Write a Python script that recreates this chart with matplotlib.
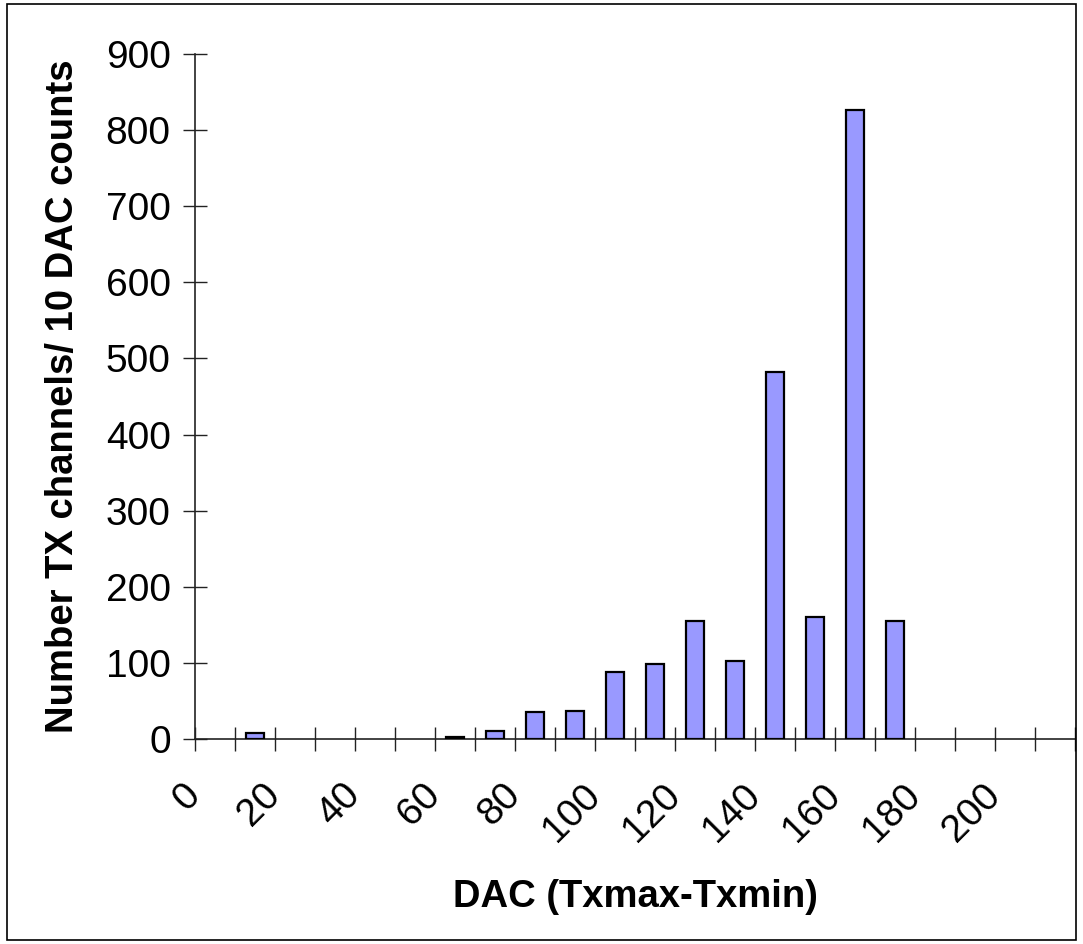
import matplotlib
matplotlib.use("Agg")
import matplotlib.pyplot as plt
from matplotlib.patches import Rectangle

# histogram bins (lower edge of each 10-count bin) and counts
bin_lo = [10, 60, 70, 80, 90, 100, 110, 120, 130, 140, 150, 160, 170]
counts = [8, 3, 10, 35, 37, 88, 98, 155, 103, 482, 160, 826, 155]

tick_vals = list(range(0, 230, 10))
tick_labels = [str(v) if (v % 20 == 0 and v <= 200) else "" for v in tick_vals]

plt.rcParams['font.family'] = ['Liberation Sans', 'DejaVu Sans']

fig = plt.figure(figsize=(10.83, 9.44), dpi=100)
ax = fig.add_axes([195/1083, 1-739/944, 880/1083, 685/944])

centers = [b + 5 for b in bin_lo]
ax.bar(centers, counts, width=4.4, color='#9999ff', edgecolor='black', linewidth=1.6, zorder=3)

ax.set_xlim(0, 220)
ax.set_ylim(0, 900)
ax.set_yticks(range(0, 1000, 100))
ax.set_xticks(tick_vals)
ax.set_xticklabels(tick_labels, rotation=45, ha='right', va='center', rotation_mode='anchor')

ax.spines['top'].set_visible(False)
ax.spines['right'].set_visible(False)
for s in ('left', 'bottom'):
    ax.spines[s].set_linewidth(1.2)
    ax.spines[s].set_color('#222222')

ax.tick_params(axis='both', direction='inout', length=17, width=1.0, color='#222222', labelsize=28)
ax.tick_params(axis='y', pad=9)
ax.tick_params(axis='x', pad=28)

ax.set_xlabel('DAC (Txmax-Txmin)', fontsize=27.5, fontweight='bold', labelpad=22)
ax.set_ylabel('Number TX channels/ 10 DAC counts', fontsize=27.5, fontweight='bold', labelpad=18)

# outer chart-area frame
fig.patches.append(Rectangle((7/1083, 4/944), 1-14/1083, 1-8/944, transform=fig.transFigure,
                             fill=False, edgecolor='black', linewidth=1.2))

fig.savefig('out.png', dpi=100)
